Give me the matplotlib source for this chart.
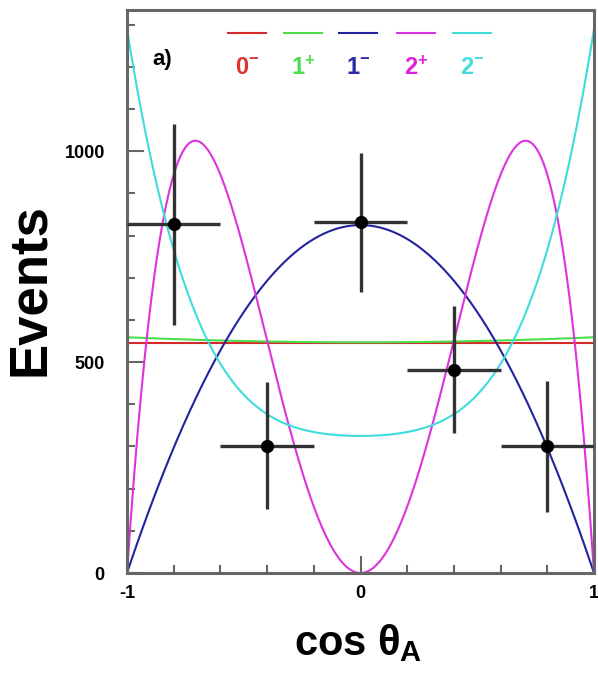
import numpy as np
import matplotlib
matplotlib.use("Agg")
import matplotlib.pyplot as plt
from matplotlib.ticker import MultipleLocator, FixedLocator

plt.rcParams['font.family'] = ['Liberation Sans', 'DejaVu Sans']
plt.rcParams['mathtext.fontset'] = 'custom'
plt.rcParams['mathtext.rm'] = 'Liberation Sans:bold'
plt.rcParams['mathtext.it'] = 'Liberation Sans:bold'
plt.rcParams['mathtext.bf'] = 'Liberation Sans:bold'

# measured angular distribution (5 bins of width 0.4)
bin_centers = [-0.8, -0.4, 0.0, 0.4, 0.8]
bin_halfwidth = [0.2, 0.2, 0.2, 0.2, 0.2]
events = [827, 302, 832, 482, 300]
event_errors = [238, 150, 165, 150, 156]

# spin-parity hypotheses: N(c) = c0 + c2*c^2 + c4*c^4
hyp_labels = [r'0$^{-}$', r'1$^{+}$', r'1$^{-}$', r'2$^{+}$', r'2$^{-}$']
hyp_c0 = [545, 547, 825, 0, 325]
hyp_c2 = [0, 12, -825, 4100, 200]
hyp_c4 = [0, 0, 0, -4100, 765]
hyp_colors = ['#d42a2a', '#4cdc4c', '#23239e', '#dd33dd', '#3fdcdc']
hyp_text_colors = ['#e03030', '#4cdc4c', '#2a2aa8', '#dd22dd', '#44dddd']

fig = plt.figure(figsize=(5.98, 6.73), dpi=100)
ax = fig.add_axes([127/598, 1 - 573/673, 467/598, 563/673])

c = np.linspace(-1, 1, 401)
for k in range(len(hyp_labels)):
    y = hyp_c0[k] + hyp_c2[k] * c**2 + hyp_c4[k] * c**4
    ax.plot(c, y, color=hyp_colors[k], lw=1.5, zorder=2 + k * 0.1)

ax.errorbar(bin_centers, events, xerr=bin_halfwidth, yerr=event_errors,
            fmt='o', color='black', ecolor='#333333', elinewidth=2.4,
            markersize=8.5, capsize=0, zorder=5)

ax.set_xlim(-1, 1)
ax.set_ylim(0, 1335)

ax.xaxis.set_major_locator(FixedLocator([-1, 0, 1]))
ax.xaxis.set_minor_locator(MultipleLocator(0.2))
ax.yaxis.set_major_locator(FixedLocator([0, 500, 1000]))
ax.yaxis.set_minor_locator(MultipleLocator(100))
ax.set_xticklabels(['-1', '0', '1'])
ax.set_yticklabels(['0', '500', '1000'])

ax.tick_params(which='both', direction='in', color='#666666', width=1.5,
               top=False, right=False)
ax.tick_params(which='major', length=12)
ax.tick_params(which='minor', length=6)
ax.tick_params(axis='x', which='major', pad=9, labelsize=13)
ax.tick_params(axis='y', which='major', pad=16, labelsize=13)
for lab in ax.get_xticklabels() + ax.get_yticklabels():
    lab.set_fontweight('bold')

for sp in ax.spines.values():
    sp.set_color('#666666')
    sp.set_linewidth(2.2)

# legend drawn as coloured segments with labels beneath
leg_x = [247, 303, 358, 416, 472]
for k in range(len(hyp_labels)):
    xc = leg_x[k] / 598
    fig.add_artist(plt.Line2D([xc - 19/598, xc + 19/598], [1 - 33/673] * 2,
                              color=hyp_colors[k], lw=1.5,
                              transform=fig.transFigure))
    fig.text(xc, 1 - 68/673, hyp_labels[k], color=hyp_text_colors[k],
             fontsize=17, fontweight='bold', ha='center', va='center')

fig.text(162/598, 1 - 60/673, 'a)', fontsize=16, fontweight='bold',
         ha='center', va='center')

fig.text(30/598, 1 - 290/673, 'Events', rotation=90, fontsize=38,
         fontweight='bold', ha='center', va='center')
fig.text(358/598, 1 - 643/673, r'cos $\theta_{\rm A}$', fontsize=30,
         fontweight='bold', ha='center', va='center')

fig.savefig('out.png', dpi=100)
